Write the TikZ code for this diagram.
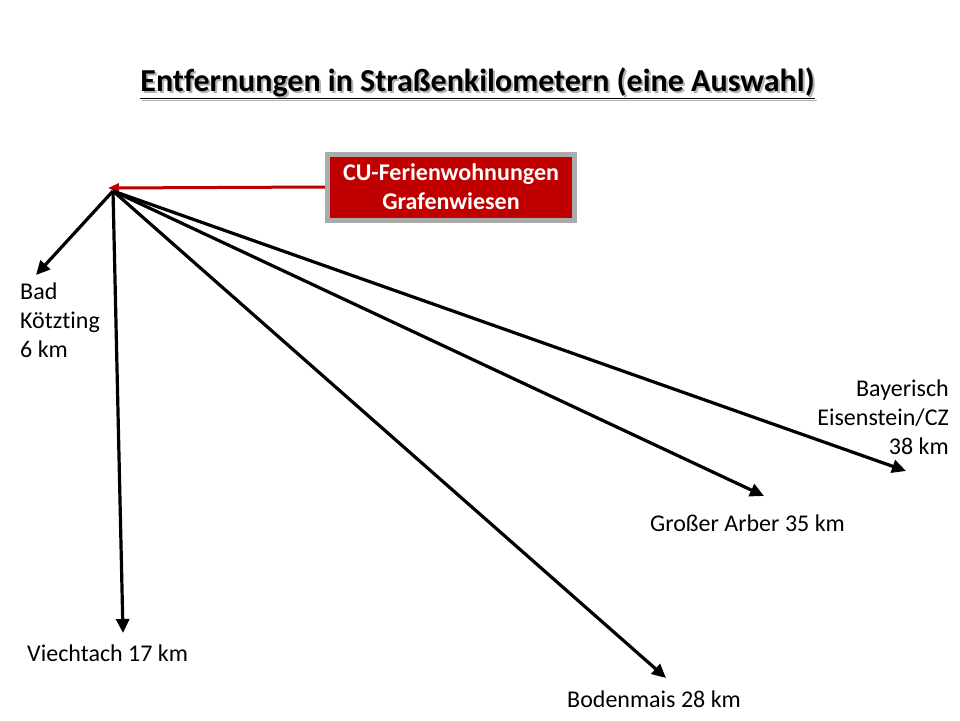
\documentclass[tikz,border=0pt]{standalone}
\usepackage{fontspec}
\setmainfont{Carlito}[Ligatures=NoCommon]
\usetikzlibrary{arrows.meta}
\definecolor{boxred}{HTML}{C00000}
\definecolor{boxgray}{HTML}{ABABAB}
\begin{document}
\begin{tikzpicture}[x=1pt,y=-1pt,
  distarrow/.style={line width=3.2pt,-{Triangle[length=14pt,width=13pt]}},
  lbl/.style={font=\fontsize{24}{29}\selectfont,inner sep=0pt},
  titlefont/.style={font=\bfseries\fontsize{32}{36}\selectfont,inner sep=0pt},
  redbox/.style={fill=boxred,draw=boxgray,line width=5pt,text=white,
     font=\bfseries\fontsize{24}{29}\selectfont,align=center,minimum width=247pt,minimum height=66pt,inner sep=0pt}]
\useasboundingbox (0,0) rectangle (960,720);
% title with shadow
\node[titlefont,text=black!30] (titleshadow) at (479.5,85) {\underline{Entfernungen in Straßenkilometern (eine Auswahl)}};
\node[titlefont] (title) at (477.5,83) {\underline{Entfernungen in Straßenkilometern (eine Auswahl)}};
% red box
\node[redbox] (cu) at (451,187) {CU-Ferienwohnungen\\Grafenwiesen};
\coordinate (home) at (113,191);
\coordinate (redtip) at (108,188);
\draw[boxred,line width=3pt,-{Triangle[length=11pt,width=9pt]}] (cu.west) -- (redtip);
% destinations
\coordinate (badk) at (36,275);
\coordinate (viech) at (123,633);
\coordinate (boden) at (666,678);
\coordinate (arber) at (764,496);
\coordinate (bayer) at (906,471);
\draw[distarrow] (home) -- (badk);
\draw[distarrow] (home) -- (viech);
\draw[distarrow] (home) -- (boden);
\draw[distarrow] (home) -- (arber);
\draw[distarrow] (home) -- (bayer);
% labels
\node[lbl,anchor=north west,align=left] (lbadk) at (20,283) {Bad\\Kötzting\\6 km};
\node[lbl,anchor=west] (lviech) at (27,653) {Viechtach 17 km};
\node[lbl,anchor=west] (lboden) at (567,699) {Bodenmais 28 km};
\node[lbl,anchor=west] (larber) at (650,523) {Großer Arber 35 km};
\node[lbl,anchor=north east,align=right] (lbayer) at (949,380) {Bayerisch\\Eisenstein/CZ\\38 km};
\end{tikzpicture}
\end{document}
